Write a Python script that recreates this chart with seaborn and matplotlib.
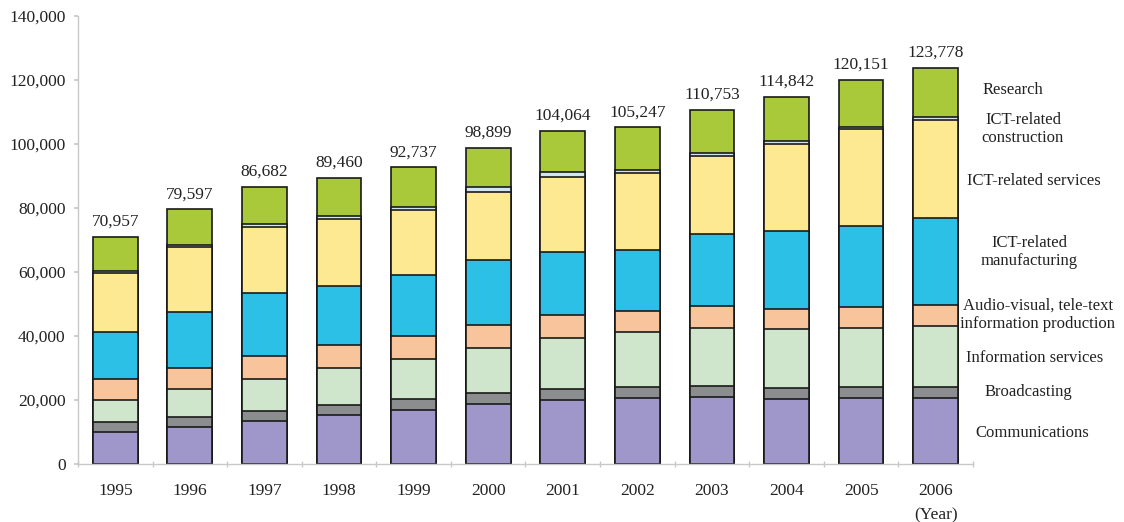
import matplotlib
matplotlib.use("Agg")
import matplotlib.pyplot as plt
import seaborn as sns
import numpy as np
import pandas as pd
from matplotlib.ticker import FuncFormatter, FixedLocator

years = ["1995", "1996", "1997", "1998", "1999", "2000", "2001", "2002", "2003", "2004", "2005", "2006"]
categories = ["Communications", "Broadcasting", "Information services",
              "Audio-visual, tele-text information production", "ICT-related manufacturing",
              "ICT-related services", "ICT-related construction", "Research"]

communications = [10000, 11700, 13500, 15400, 16900, 18750, 20000, 20700, 21000, 20300, 20700, 20700]
broadcasting = [3000, 3100, 3200, 3000, 3300, 3350, 3300, 3400, 3500, 3550, 3450, 3450]
information_services = [7100, 8500, 10000, 11700, 12700, 14000, 16200, 17150, 18100, 18250, 18350, 19050]
audio_visual = [6600, 6700, 7100, 7100, 7200, 7200, 7000, 6650, 6800, 6400, 6560, 6600]
ict_manufacturing = [14600, 17600, 19500, 18500, 18900, 20300, 19900, 19000, 22400, 24300, 25340, 27000]
ict_services = [18500, 20100, 20900, 20900, 20300, 21300, 23200, 23900, 24450, 27300, 30200, 30700]
ict_construction = [600, 600, 800, 900, 1100, 1600, 1550, 1100, 1050, 800, 800, 800]
research = [10557, 11297, 11682, 11960, 12337, 12399, 12914, 13347, 13453, 13942, 14751, 15478]
totals = [70957, 79597, 86682, 89460, 92737, 98899, 104064, 105247, 110753, 114842, 120151, 123778]

series = [communications, broadcasting, information_services, audio_visual,
          ict_manufacturing, ict_services, ict_construction, research]
colors = ["#9f97c9", "#8b8d8f", "#cfe6cd", "#f8c49b", "#2cc0e6", "#fde992", "#cfe8ef", "#a9c83a"]

sns.set_theme(style="white")
plt.rcParams["font.family"] = ["Liberation Serif", "DejaVu Serif"]

fig = plt.figure(figsize=(11.24, 5.22), dpi=100)
ax = fig.add_axes([78 / 1124, 1 - 464 / 522, (973 - 78) / 1124, (464 - 16) / 522])

cum = np.cumsum(np.array(series, dtype=float), axis=0)
# draw from top layer down so lower layers overlay
for i in range(len(series) - 1, -1, -1):
    df = pd.DataFrame({"year": years, "value": cum[i]})
    sns.barplot(data=df, x="year", y="value", color=colors[i], width=0.6,
                edgecolor="#1a1a1a", linewidth=1.2, ax=ax, saturation=1)

for i, t in enumerate(totals):
    ax.annotate(f"{t:,}", (i, t), xytext=(0, 5), textcoords="offset points",
                ha="center", va="bottom", fontsize=12.5, color="#222222")

ax.set_xlim(-0.5, 11.5)
ax.set_ylim(0, 140000)
ax.set_yticks(np.arange(0, 140001, 20000))
ax.yaxis.set_major_formatter(FuncFormatter(lambda v, p: f"{int(v):,}"))
ax.set_xlabel("")
ax.set_ylabel("")
ax.set_xticks(range(len(years)))
ax.set_xticklabels(years)
ax.xaxis.set_minor_locator(FixedLocator(np.arange(-0.5, 12, 1.0)))
ax.tick_params(axis="x", which="major", length=0, pad=14, labelsize=12.5, labelcolor="#222222")
ax.tick_params(axis="x", which="minor", length=4, direction="inout", color="#c8c8c8", bottom=True)
ax.tick_params(axis="y", which="major", length=3, color="#c8c8c8", left=True, pad=6,
               labelsize=12.5, labelcolor="#222222")
for s in ["top", "right"]:
    ax.spines[s].set_visible(False)
for s in ["left", "bottom"]:
    ax.spines[s].set_color("#c8c8c8")
    ax.spines[s].set_linewidth(1.0)
ax.grid(False)

ax.text(11, -0.115, "(Year)", transform=ax.get_xaxis_transform(), ha="center", va="center",
        fontsize=12.5, color="#222222")

labels = [
    ("Research", 1013, 90),
    ("ICT-related\nconstruction", 1023, 129),
    ("ICT-related services", 1034, 181),
    ("ICT-related\nmanufacturing", 1029, 252),
    ("Audio-visual, tele-text\ninformation production", 1038, 315),
    ("Information services", 1035, 358),
    ("Broadcasting", 1028, 392),
    ("Communications", 1032, 433),
]
for txt, px, py in labels:
    fig.text(px / 1124, 1 - py / 522, txt, ha="center", va="center", fontsize=12,
             color="#222222", linespacing=1.15, multialignment="center")

fig.savefig("out.png", dpi=100)
